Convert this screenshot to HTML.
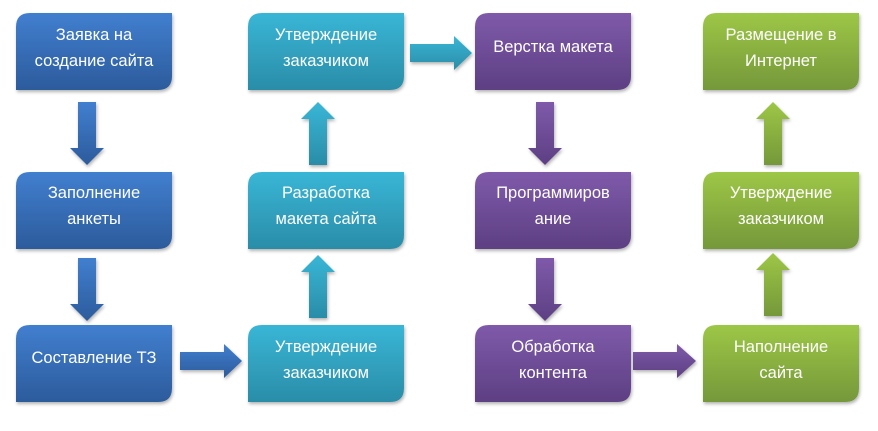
<!DOCTYPE html>
<html><head><meta charset="utf-8"><style>
html,body{margin:0;padding:0;background:#fff;}
svg text{font-family:"Liberation Sans",sans-serif;font-size:16.5px;fill:#fff;text-anchor:middle;}
</style></head><body>
<svg width="878" height="426" viewBox="0 0 878 426" xmlns="http://www.w3.org/2000/svg">
<defs>
<linearGradient id="b" x1="0" y1="0" x2="0" y2="1"><stop offset="0" stop-color="#417fcf"/><stop offset="1" stop-color="#2c5b9c"/></linearGradient>
<linearGradient id="t" x1="0" y1="0" x2="0" y2="1"><stop offset="0" stop-color="#39b6d6"/><stop offset="1" stop-color="#2a8da8"/></linearGradient>
<linearGradient id="p" x1="0" y1="0" x2="0" y2="1"><stop offset="0" stop-color="#7f5aaa"/><stop offset="1" stop-color="#5d3f83"/></linearGradient>
<linearGradient id="g" x1="0" y1="0" x2="0" y2="1"><stop offset="0" stop-color="#9dc746"/><stop offset="1" stop-color="#75983a"/></linearGradient>
<filter id="s" x="-10%" y="-10%" width="120%" height="130%"><feDropShadow dx="1" dy="2" stdDeviation="1.5" flood-color="#000" flood-opacity="0.3"/></filter>
</defs>
<g filter="url(#s)">
<path transform="translate(16,13)" d="M14 0H156V63Q156 77 142 77H0V14Q0 0 14 0Z" fill="url(#b)"/>
<path transform="translate(16,172)" d="M14 0H156V63Q156 77 142 77H0V14Q0 0 14 0Z" fill="url(#b)"/>
<path transform="translate(16,325)" d="M14 0H156V63Q156 77 142 77H0V14Q0 0 14 0Z" fill="url(#b)"/>
<path transform="translate(248,13)" d="M14 0H156V63Q156 77 142 77H0V14Q0 0 14 0Z" fill="url(#t)"/>
<path transform="translate(248,172)" d="M14 0H156V63Q156 77 142 77H0V14Q0 0 14 0Z" fill="url(#t)"/>
<path transform="translate(248,325)" d="M14 0H156V63Q156 77 142 77H0V14Q0 0 14 0Z" fill="url(#t)"/>
<path transform="translate(475,13)" d="M14 0H156V63Q156 77 142 77H0V14Q0 0 14 0Z" fill="url(#p)"/>
<path transform="translate(475,172)" d="M14 0H156V63Q156 77 142 77H0V14Q0 0 14 0Z" fill="url(#p)"/>
<path transform="translate(475,325)" d="M14 0H156V63Q156 77 142 77H0V14Q0 0 14 0Z" fill="url(#p)"/>
<path transform="translate(703,13)" d="M14 0H156V63Q156 77 142 77H0V14Q0 0 14 0Z" fill="url(#g)"/>
<path transform="translate(703,172)" d="M14 0H156V63Q156 77 142 77H0V14Q0 0 14 0Z" fill="url(#g)"/>
<path transform="translate(703,325)" d="M14 0H156V63Q156 77 142 77H0V14Q0 0 14 0Z" fill="url(#g)"/>
<path d="M78 102H96V148H104L87 165L70 148H78Z" fill="url(#b)"/>
<path d="M78 258H96V304H104L87 321L70 304H78Z" fill="url(#b)"/>
<path d="M536 102H554V148H562L545 165L528 148H536Z" fill="url(#p)"/>
<path d="M536 258H554V304H562L545 321L528 304H536Z" fill="url(#p)"/>
<path d="M309 165H327V119H335L318 102L301 119H309Z" fill="url(#t)"/>
<path d="M309 318H327V272H335L318 255L301 272H309Z" fill="url(#t)"/>
<path d="M764 165H782V119H790L773 102L756 119H764Z" fill="url(#g)"/>
<path d="M764 316H782V270H790L773 253L756 270H764Z" fill="url(#g)"/>
<path d="M180 352H224V344L242 361L224 378V370H180Z" fill="url(#b)"/>
<path d="M410 44H454V36L472 53L454 70V62H410Z" fill="url(#t)"/>
<path d="M633 352H677V344L696 361L677 378V370H633Z" fill="url(#p)"/>
</g>
<text x="94" y="40">Заявка на</text><text x="94" y="66">создание сайта</text>
<text x="94" y="198">Заполнение</text><text x="94" y="224">анкеты</text>
<text x="94" y="363">Составление ТЗ</text>
<text x="326" y="40">Утверждение</text><text x="326" y="66">заказчиком</text>
<text x="326" y="198">Разработка</text><text x="326" y="224">макета сайта</text>
<text x="326" y="352">Утверждение</text><text x="326" y="378">заказчиком</text>
<text x="553" y="52">Верстка макета</text>
<text x="553" y="198">Программиров</text><text x="553" y="224">ание</text>
<text x="553" y="352">Обработка</text><text x="553" y="378">контента</text>
<text x="781" y="40">Размещение в</text><text x="781" y="66">Интернет</text>
<text x="781" y="198">Утверждение</text><text x="781" y="224">заказчиком</text>
<text x="781" y="352">Наполнение</text><text x="781" y="378">сайта</text>
</svg>
</body></html>
